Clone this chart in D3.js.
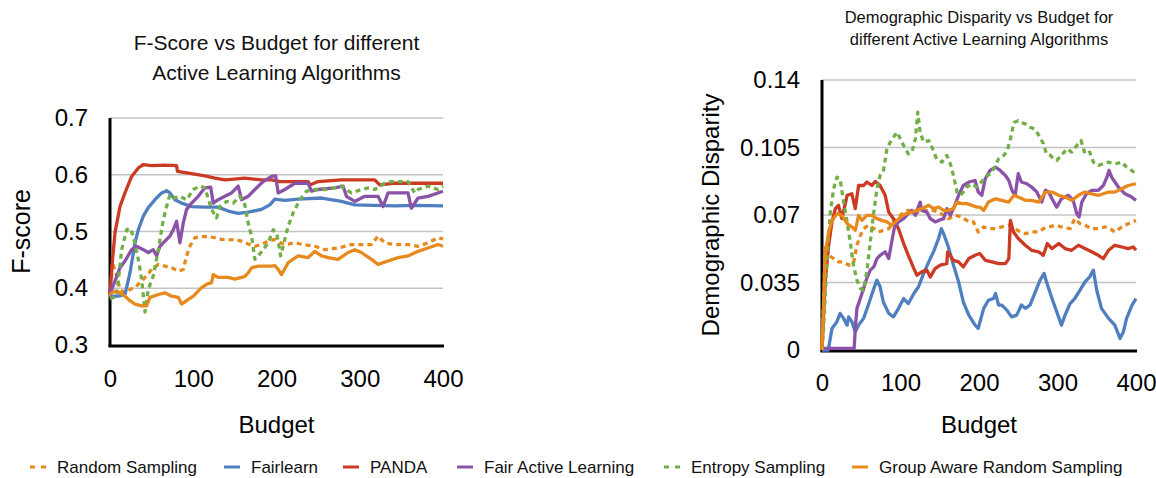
<!DOCTYPE html>
<html>
<head>
<meta charset="utf-8">
<script src="https://cdn.jsdelivr.net/npm/d3@7"></script>
<style>
body { margin: 0; background: #fff; }
svg { display: block; font-family: "Liberation Sans", Arial, sans-serif; }
</style>
</head>
<body>
<div id="chart"></div>
<script>
// ---- data: [budget, value] ----
var budgetTicks = [0, 100, 200, 300, 400];
var fscoreTicks = [0.3, 0.4, 0.5, 0.6, 0.7];
var disparityTicks = [0, 0.035, 0.07, 0.105, 0.14];

var seriesNames = ["Random Sampling", "Fairlearn", "PANDA", "Fair Active Learning", "Entropy Sampling", "Group Aware Random Sampling"];
var seriesColors = ["#E8891D", "#4F7FC0", "#CB3A22", "#8A52A8", "#72AF48", "#E8891D"];
var seriesDashed = [true, false, false, false, true, false];
var legendX = [30, 224, 343, 457, 664, 852];

// F-score chart
var fRandom = [[0,0.385],[3,0.445],[8,0.422],[12,0.398],[18,0.392],[24,0.398],[30,0.401],[38,0.413],[44,0.422],[50,0.433],[58,0.442],[66,0.439],[74,0.436],[82,0.430],[88,0.433],[92,0.457],[96,0.474],[102,0.489],[110,0.491],[118,0.491],[126,0.489],[134,0.486],[142,0.485],[150,0.486],[158,0.483],[166,0.478],[174,0.474],[182,0.477],[190,0.483],[198,0.486],[204,0.481],[210,0.477],[222,0.480],[232,0.477],[246,0.474],[258,0.468],[274,0.471],[290,0.477],[302,0.477],[314,0.477],[322,0.492],[330,0.480],[342,0.477],[358,0.477],[370,0.474],[382,0.480],[394,0.489],[400,0.487]];
var fFairlearn = [[0,0.386],[10,0.386],[18,0.389],[24,0.427],[30,0.480],[34,0.503],[40,0.527],[46,0.542],[54,0.556],[62,0.568],[68,0.572],[72,0.568],[78,0.556],[86,0.550],[98,0.544],[114,0.543],[130,0.543],[142,0.536],[154,0.532],[166,0.534],[182,0.539],[192,0.547],[198,0.557],[210,0.555],[226,0.557],[254,0.559],[278,0.553],[294,0.547],[318,0.546],[342,0.545],[366,0.546],[400,0.545]];
var fPanda = [[0,0.39],[3,0.45],[6,0.498],[12,0.544],[18,0.568],[26,0.597],[34,0.612],[40,0.618],[50,0.616],[66,0.617],[80,0.616],[81,0.606],[98,0.602],[114,0.598],[126,0.594],[138,0.591],[146,0.592],[162,0.594],[182,0.591],[194,0.591],[204,0.588],[238,0.588],[240,0.582],[250,0.588],[278,0.591],[318,0.591],[324,0.582],[340,0.585],[400,0.585]];
var fFairActive = [[0,0.39],[6,0.413],[12,0.436],[18,0.448],[26,0.468],[32,0.474],[40,0.468],[46,0.463],[52,0.468],[56,0.457],[60,0.474],[66,0.483],[72,0.492],[76,0.503],[80,0.518],[84,0.480],[88,0.515],[92,0.539],[98,0.550],[106,0.562],[114,0.577],[121,0.578],[124,0.550],[130,0.556],[138,0.562],[146,0.568],[154,0.580],[158,0.556],[166,0.562],[174,0.574],[184,0.588],[194,0.597],[199,0.598],[202,0.568],[210,0.574],[222,0.585],[238,0.585],[242,0.571],[250,0.574],[270,0.577],[280,0.580],[284,0.562],[294,0.553],[306,0.562],[322,0.562],[328,0.544],[334,0.568],[358,0.568],[362,0.541],[370,0.559],[382,0.562],[400,0.571]];
var fEntropy = [[0,0.381],[8,0.386],[14,0.468],[20,0.503],[24,0.506],[28,0.492],[34,0.451],[38,0.416],[42,0.358],[46,0.398],[52,0.422],[58,0.468],[64,0.521],[68,0.544],[72,0.565],[78,0.559],[84,0.562],[92,0.556],[100,0.574],[108,0.580],[114,0.577],[122,0.539],[128,0.524],[132,0.544],[140,0.553],[148,0.550],[156,0.562],[162,0.547],[166,0.515],[170,0.492],[174,0.451],[178,0.457],[184,0.468],[190,0.480],[196,0.503],[200,0.498],[202,0.483],[205,0.457],[208,0.475],[214,0.509],[220,0.533],[228,0.556],[236,0.571],[246,0.574],[258,0.574],[270,0.577],[278,0.580],[290,0.568],[302,0.574],[310,0.577],[318,0.574],[330,0.585],[338,0.588],[346,0.588],[358,0.588],[366,0.568],[370,0.574],[382,0.580],[394,0.574],[400,0.580]];
var fGroupAware = [[0,0.39],[6,0.395],[12,0.392],[18,0.386],[24,0.378],[30,0.372],[38,0.369],[44,0.369],[48,0.384],[58,0.389],[66,0.392],[74,0.386],[82,0.384],[86,0.372],[92,0.378],[100,0.386],[110,0.401],[116,0.407],[122,0.410],[124,0.424],[130,0.419],[142,0.419],[150,0.416],[158,0.419],[162,0.421],[166,0.427],[170,0.436],[178,0.439],[194,0.439],[198,0.440],[202,0.433],[206,0.424],[214,0.445],[226,0.457],[238,0.454],[246,0.465],[254,0.457],[262,0.454],[274,0.451],[286,0.463],[294,0.468],[302,0.463],[314,0.451],[322,0.442],[334,0.448],[346,0.454],[358,0.457],[370,0.465],[382,0.471],[394,0.477],[400,0.474]];

// Demographic disparity chart
var dRandom = [[0,0],[2,0.025],[4,0.0543],[8.5,0.0491],[15,0.0474],[21,0.0457],[27.5,0.0457],[34,0.044],[40,0.0448],[44.5,0.0543],[49,0.0595],[53,0.0629],[59,0.0647],[66,0.0629],[72,0.0612],[78,0.062],[85,0.0629],[91,0.0664],[97.5,0.069],[104,0.0715],[110,0.0724],[119,0.0707],[127,0.0724],[134,0.0724],[142,0.0724],[148.5,0.0715],[155,0.0698],[161,0.0681],[170,0.0698],[178,0.069],[187,0.0664],[193,0.0664],[199,0.0612],[206,0.0638],[212,0.0629],[221,0.0629],[229,0.0638],[238,0.0647],[246,0.0629],[252.6,0.0612],[259,0.0603],[267,0.0612],[276,0.0612],[282,0.0629],[289,0.0638],[297.6,0.0647],[305,0.0638],[316,0.0629],[320,0.0664],[322,0.0681],[328.7,0.0655],[335,0.0647],[343.5,0.0629],[352,0.0629],[360.5,0.0638],[367,0.0629],[373,0.0612],[382,0.0638],[390,0.0655],[400,0.0672]];
var dFairlearn = [[0,0],[8,0],[12.7,0.0112],[19,0.0147],[23,0.019],[27.5,0.0164],[32,0.0129],[34,0.0172],[38,0.0147],[42.4,0.0095],[46.6,0.0129],[53,0.0164],[59,0.0233],[66,0.0319],[70,0.0362],[74,0.0328],[78,0.025],[85,0.019],[91,0.0172],[97.5,0.0216],[104,0.0267],[110,0.0241],[117,0.0293],[123,0.0328],[129.5,0.0397],[136,0.0457],[142,0.0509],[148.5,0.0578],[152,0.0629],[155,0.0603],[161,0.0534],[167.5,0.044],[174,0.0353],[180,0.025],[187,0.0181],[195,0.0129],[199,0.0112],[206,0.0216],[212,0.0258],[218.5,0.0267],[221,0.0293],[225,0.0233],[229,0.0233],[235.5,0.0207],[241.5,0.0172],[248,0.0181],[254,0.0233],[259,0.0216],[265,0.0233],[271,0.0293],[277.8,0.0362],[283,0.0397],[286,0.0353],[293,0.0267],[299,0.0198],[305,0.0129],[309.6,0.0181],[316,0.0241],[322,0.0267],[328.7,0.031],[335,0.0353],[341,0.0379],[345.7,0.0414],[350,0.031],[356,0.0216],[365,0.0164],[373,0.0129],[379.6,0.006],[384,0.0095],[388,0.0164],[395,0.0233],[400,0.0267]];
var dPanda = [[0,0],[4,0.0353],[8.5,0.0543],[12.7,0.0664],[17,0.0733],[21,0.075],[25.4,0.0681],[32,0.0802],[38,0.081],[42.4,0.0733],[46.6,0.0853],[53,0.0853],[57,0.0871],[63.6,0.0853],[68,0.0874],[74,0.0853],[80.5,0.0802],[85,0.0715],[91,0.0681],[97.5,0.0629],[104,0.0552],[110,0.0491],[117,0.0422],[121,0.0388],[127,0.0405],[133.6,0.0414],[138,0.0379],[144,0.0422],[150.6,0.044],[159,0.0448],[160,0.0509],[167.5,0.0465],[174,0.0457],[180,0.0431],[187,0.0474],[195,0.0491],[201,0.05],[208,0.0465],[216.5,0.0457],[225,0.0448],[233.6,0.0448],[238,0.0474],[240,0.0672],[244,0.0612],[250,0.0578],[259,0.0543],[267,0.0517],[276,0.0509],[282,0.0491],[287,0.0552],[293,0.0526],[301.6,0.0552],[309.6,0.0526],[318,0.0517],[326.6,0.0543],[335,0.0526],[343.5,0.0509],[352,0.0491],[358.4,0.0474],[365,0.0517],[373,0.0543],[382,0.0534],[390,0.0526],[396.6,0.0534],[400,0.0517]];
var dFairActive = [[0,0.0008],[41,0.0008],[42.4,0.0112],[44.5,0.0216],[48.8,0.0267],[53,0.0319],[57,0.0371],[61.5,0.0414],[66,0.0431],[70,0.0474],[74,0.0491],[80.5,0.0509],[85,0.0474],[88,0.0543],[92.4,0.0638],[97.5,0.0664],[104,0.0681],[110,0.0707],[114.5,0.0724],[119,0.0698],[125,0.0767],[127,0.0724],[133.6,0.0715],[138,0.0681],[144,0.0664],[148.5,0.0672],[155,0.0681],[159,0.0733],[163.5,0.0698],[167.5,0.0733],[174,0.0802],[180,0.0853],[187,0.0871],[195,0.0879],[199,0.0819],[203.6,0.0802],[208,0.0888],[214,0.0931],[221,0.0948],[227,0.0931],[233.6,0.0905],[238,0.0879],[242,0.0828],[246,0.0802],[250,0.0914],[254,0.0871],[261,0.0862],[267,0.0845],[273.6,0.0819],[280,0.0767],[284.6,0.0828],[288.8,0.0819],[293,0.0784],[299,0.0741],[305,0.0784],[314,0.0802],[320,0.0776],[324.5,0.0707],[327.5,0.069],[331,0.0767],[337,0.081],[343.5,0.0828],[352,0.0828],[358.4,0.0853],[363,0.0896],[365.6,0.0931],[369,0.0896],[377.5,0.0845],[386,0.081],[394.5,0.0793],[400,0.0776]];
var dEntropy = [[0,0],[2,0.0112],[6.3,0.0457],[10.6,0.0715],[14.8,0.0836],[19,0.0896],[23,0.0888],[27.5,0.0767],[32,0.0664],[36,0.056],[40,0.044],[44.5,0.0362],[49,0.0319],[53,0.031],[57,0.0405],[61.5,0.056],[66,0.0715],[70,0.0836],[74,0.0905],[78,0.0922],[82.7,0.1043],[87,0.1078],[91,0.1103],[95.6,0.1129],[99.7,0.1095],[104,0.106],[110,0.1017],[114.5,0.1026],[119,0.1095],[122,0.1233],[125,0.1129],[129.5,0.1078],[136,0.1086],[140,0.1052],[146,0.0991],[152.7,0.0974],[159,0.1009],[163.5,0.0965],[167.5,0.0905],[172,0.0819],[176,0.0802],[180,0.0819],[184.5,0.0845],[191,0.0862],[197,0.0845],[201,0.0862],[208,0.0896],[216.5,0.0922],[225,0.0991],[231.7,0.1009],[236,0.1034],[240,0.1095],[244.5,0.118],[250,0.1189],[259,0.1172],[265,0.1155],[271,0.1146],[277.8,0.1103],[282,0.1069],[286,0.1017],[291,0.1009],[295,0.0991],[299,0.0983],[305,0.1009],[312,0.1043],[318,0.1026],[324.5,0.106],[330,0.1086],[335,0.1017],[341,0.1026],[345.7,0.0974],[352,0.0957],[358.4,0.0965],[365,0.0974],[373,0.0965],[382,0.0974],[388,0.0948],[394.5,0.0931],[400,0.0914]];
var dGroupAware = [[0,0],[4,0.0491],[8.5,0.0612],[12.7,0.0672],[19,0.0707],[25.4,0.0698],[32,0.0655],[38,0.0638],[42.4,0.0621],[46.6,0.0698],[51,0.0672],[57,0.0698],[63.6,0.0698],[70,0.0681],[76,0.0672],[82.7,0.0664],[89,0.0647],[95.6,0.0672],[102,0.0698],[108,0.0707],[114.5,0.0715],[121,0.0724],[127,0.0733],[136,0.075],[142,0.0733],[148.5,0.0741],[155,0.0724],[161,0.0724],[167.5,0.0733],[172,0.0767],[178,0.0759],[184.5,0.0759],[191,0.075],[197,0.0741],[201,0.0741],[206,0.0724],[212,0.0767],[221,0.0784],[229,0.0776],[238,0.0767],[244.5,0.0802],[250,0.0793],[259,0.0776],[267,0.0776],[276,0.0767],[284.6,0.0819],[293,0.0819],[301.6,0.0802],[309.6,0.0793],[318,0.0776],[326.6,0.0802],[335,0.0819],[343.5,0.081],[352,0.0802],[358.4,0.081],[365,0.0819],[373,0.0819],[382,0.0836],[390,0.0853],[400,0.0862]];

var fSeries = [fRandom, fFairlearn, fPanda, fFairActive, fEntropy, fGroupAware];
var dSeries = [dRandom, dFairlearn, dPanda, dFairActive, dEntropy, dGroupAware];

var svg = d3.select("#chart").append("svg")
  .attr("width", 1156)
  .attr("height", 478);

function drawPanel(p) {
  var x = d3.scaleLinear().domain([0, 400]).range([p.left, p.right]);
  var y = d3.scaleLinear().domain(p.yDomain).range([p.bottom, p.top]);
  var g = svg.append("g");

  // gridlines
  g.selectAll(".grid")
    .data(p.yTicks.slice(1))
    .enter().append("line")
    .attr("x1", p.left).attr("x2", p.right)
    .attr("y1", function(d) { return y(d); })
    .attr("y2", function(d) { return y(d); })
    .attr("stroke", "#C4C4C4")
    .attr("stroke-width", 1.5);

  // y tick labels
  var ya = g.append("g")
    .attr("transform", "translate(" + p.left + ",0)")
    .call(d3.axisLeft(y).tickValues(p.yTicks).tickSize(0).tickPadding(22).tickFormat(function(d) { return String(d); }));
  ya.select(".domain").remove();
  ya.selectAll("text").attr("font-size", 24).attr("fill", "#000").attr("font-family", null);

  // x tick labels
  var xa = g.append("g")
    .attr("transform", "translate(0," + p.bottom + ")")
    .call(d3.axisBottom(x).tickValues(budgetTicks).tickSize(0).tickPadding(p.xPad));
  xa.select(".domain").remove();
  xa.selectAll("text").attr("font-size", 24).attr("fill", "#000").attr("font-family", null);

  // axis lines
  g.append("line")
    .attr("x1", p.left).attr("x2", p.left)
    .attr("y1", p.top).attr("y2", p.bottom + 1.5)
    .attr("stroke", "#000").attr("stroke-width", 3);
  g.append("line")
    .attr("x1", p.left - 1.5).attr("x2", p.right + 1)
    .attr("y1", p.bottom + 1).attr("y2", p.bottom + 1)
    .attr("stroke", "#000").attr("stroke-width", 3);

  // series
  var line = d3.line()
    .x(function(d) { return x(d[0]); })
    .y(function(d) { return y(d[1]); });
  p.series.forEach(function(s, i) {
    g.append("path")
      .datum(s)
      .attr("d", line)
      .attr("fill", "none")
      .attr("stroke", seriesColors[i])
      .attr("stroke-width", 3.3)
      .attr("stroke-linejoin", "round")
      .attr("stroke-dasharray", seriesDashed[i] ? "5,4" : null);
  });

  // titles
  var cx = (p.left + p.right) / 2;
  p.title.forEach(function(t, i) {
    g.append("text")
      .attr("x", cx)
      .attr("y", p.titleY + i * p.titleGap)
      .attr("text-anchor", "middle")
      .attr("font-size", p.titleSize)
      .attr("fill", "#111")
      .text(t);
  });
  g.append("text")
    .attr("x", cx).attr("y", 433)
    .attr("text-anchor", "middle")
    .attr("font-size", 24)
    .text("Budget");
  g.append("text")
    .attr("transform", "translate(" + p.yLabelX + "," + (p.top + p.bottom) / 2 + ") rotate(-90)")
    .attr("text-anchor", "middle")
    .attr("font-size", p.yLabelSize)
    .text(p.yLabel);
}

drawPanel({
  left: 110, right: 443, top: 118, bottom: 345,
  yDomain: [0.3, 0.7], yTicks: fscoreTicks, series: fSeries, xPad: 25,
  title: ["F-Score vs Budget for different", "Active Learning Algorithms"],
  titleY: 50, titleGap: 30, titleSize: 21,
  yLabel: "F-score", yLabelX: 30, yLabelSize: 25
});

drawPanel({
  left: 822, right: 1136, top: 80, bottom: 350,
  yDomain: [0, 0.14], yTicks: disparityTicks, series: dSeries, xPad: 24,
  title: ["Demographic Disparity vs Budget for", "different Active Learning Algorithms"],
  titleY: 23, titleGap: 22, titleSize: 16.5,
  yLabel: "Demographic Disparity", yLabelX: 719, yLabelSize: 24
});

// legend
var legend = svg.append("g").attr("font-size", 17);
var items = legend.selectAll("g")
  .data(seriesNames)
  .enter().append("g")
  .attr("transform", function(d, i) { return "translate(" + legendX[i] + ",467)"; });
items.append("line")
  .attr("x1", 0).attr("x2", 16)
  .attr("y1", 0).attr("y2", 0)
  .attr("stroke", function(d, i) { return seriesColors[i]; })
  .attr("stroke-width", 3)
  .attr("stroke-dasharray", function(d, i) { return seriesDashed[i] ? "5,6" : null; });
items.append("text")
  .attr("x", 27)
  .attr("y", 6)
  .attr("fill", "#111")
  .text(function(d) { return d; });
</script>
</body>
</html>
